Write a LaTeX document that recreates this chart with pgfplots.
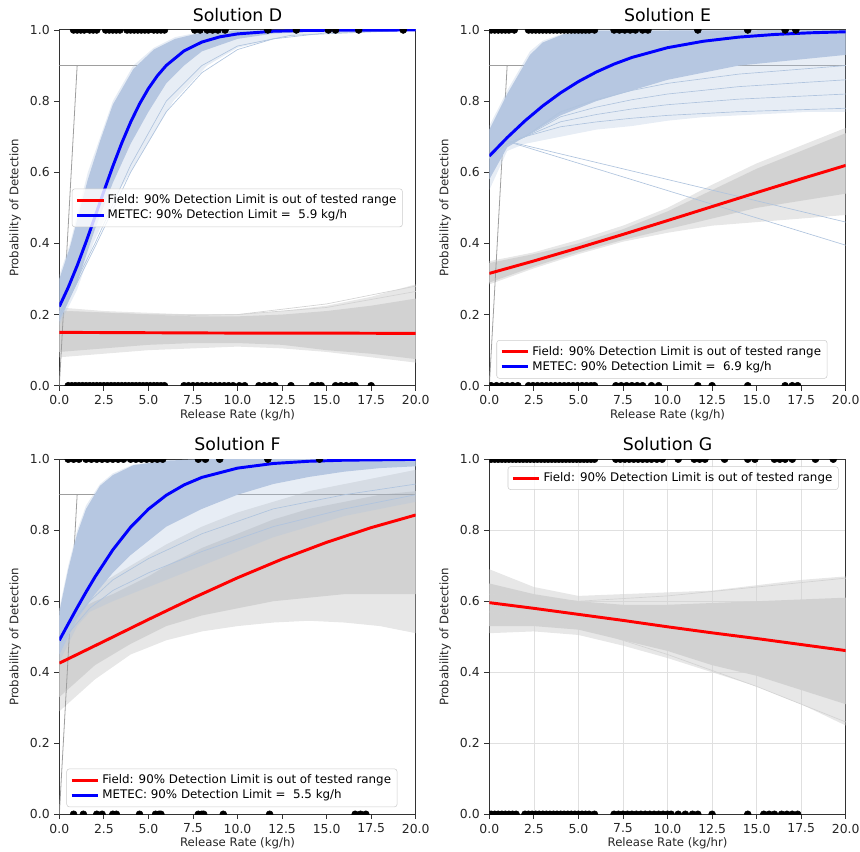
\documentclass[border=0pt]{standalone}
\usepackage{fontspec}
\setmainfont{DejaVu Sans}
\usepackage{pgfplots}
\pgfplotsset{compat=1.18}
\definecolor{fanblue}{RGB}{182,199,225}
\definecolor{fanblueL}{RGB}{176,196,222}
\definecolor{fangray}{RGB}{210,210,210}
\definecolor{fangrayL}{RGB}{211,211,211}
\definecolor{mred}{RGB}{255,0,0}
\definecolor{mblue}{RGB}{0,0,255}
\pgfplotsset{
  podaxis/.style={
    scale only axis, width=267.3pt,
    xmin=0, xmax=20, ymin=0, ymax=1,
    xtick={0,2.5,5,7.5,10,12.5,15,17.5,20},
    ytick={0,0.2,0.4,0.6,0.8,1},
    xticklabel style={/pgf/number format/.cd, fixed, fixed zerofill, precision=1},
    yticklabel style={/pgf/number format/.cd, fixed, fixed zerofill, precision=1},
    /pgf/number format/assume math mode=true,
    tick label style={font=\fontsize{9.3}{11}\selectfont, text=black!85},
    label style={font=\fontsize{8.8}{10}\selectfont, text=black!85},
    xlabel style={yshift=3.5pt},
    title style={font=\fontsize{13}{15}\selectfont, yshift=-3pt},
    tick align=outside, xtick pos=bottom, ytick pos=left,
    major tick length=3.7pt,
    tick style={black!80, line width=0.6pt},
    axis line style={black!80, line width=0.75pt},
    ylabel={Probability of Detection},
    clip marker paths=true,
    legend cell align=left,
    legend image code/.code={\draw[#1, line width=2.2pt] (0pt,0pt) -- (20pt,0pt);},
    legend style={draw=black!20, rounded corners=2pt, fill=white, fill opacity=0.8, text opacity=1,
      font=\fontsize{8.9}{10.5}\selectfont, inner sep=2.5pt, row sep=-1pt},
  },
  dots/.style={only marks, mark=*, mark size=2.6pt, black, forget plot},
  outerB/.style={draw=none, fill=fanblueL, fill opacity=0.3, forget plot},
  coreB/.style={draw=none, fill=fanblue, forget plot},
  outerG/.style={draw=none, fill=fangrayL, fill opacity=0.55, forget plot},
  coreG/.style={draw=none, fill=fangray, forget plot},
  thinB/.style={fanblueL, line width=0.5pt, forget plot},
  thinG/.style={fangrayL, line width=0.5pt, forget plot},
  refline/.style={black!38, line width=0.6pt, forget plot},
}
\begin{document}
\begin{tikzpicture}
\useasboundingbox (0pt,0pt) rectangle (645pt,-639pt);
% ---------------- Solution D
\begin{axis}[podaxis, height=266.8pt, at={(44.5pt,-289.3pt)}, anchor=south west,
  title={Solution D}, xlabel={Release Rate (kg/h)},
  legend style={at={(0.035,0.5)}, anchor=west}]
\addplot[outerG] coordinates {(0,0.22)(2.5,0.21)(5,0.205)(7.5,0.2)(10,0.2)(12.5,0.21)(15,0.225)(17.5,0.25)(20,0.285)(20,0.065)(17.5,0.08)(15,0.095)(12.5,0.105)(10,0.11)(7.5,0.105)(5,0.10)(2.5,0.09)(0,0.08)} -- cycle;
\addplot[coreG] coordinates {(0,0.21)(2.5,0.205)(5,0.20)(7.5,0.195)(10,0.195)(12.5,0.20)(15,0.21)(17.5,0.225)(20,0.245)(20,0.075)(17.5,0.09)(15,0.10)(12.5,0.115)(10,0.12)(7.5,0.12)(5,0.115)(2.5,0.105)(0,0.095)} -- cycle;
\addplot[thinG] coordinates {(0,0.21)(5,0.2)(10,0.2)(15,0.23)(20,0.28)};
\addplot[thinG] coordinates {(0,0.2)(5,0.195)(10,0.2)(15,0.22)(20,0.265)};
\addplot[refline] coordinates {(0,0.9)(5.9,0.9)};
\addplot[refline] coordinates {(0,0)(1,0.9)};
\addplot[outerB] coordinates {(0,0.31)(0.6,0.40)(1.6,0.60)(2.3,0.70)(3.0,0.80)(4.15,0.90)(5.3,0.95)(6.5,0.98)(8,0.995)(10,1)(20,1)(20,0.999)(15,0.993)(12.5,0.98)(10,0.95)(8.3,0.90)(6.4,0.80)(5.2,0.70)(4,0.60)(3,0.52)(1.9,0.40)(1,0.27)(0,0.17)} -- cycle;
\addplot[coreB] coordinates {(0,0.30)(0.6,0.39)(1.6,0.58)(2.3,0.69)(3.0,0.79)(4.15,0.89)(5.3,0.945)(6.5,0.975)(8,0.993)(10,0.999)(20,1.0)(20,1)(15,0.997)(12,0.99)(10,0.975)(8,0.94)(7,0.90)(6,0.85)(5,0.77)(4,0.68)(3,0.57)(2,0.44)(1,0.29)(0,0.18)} -- cycle;
\addplot[thinB] coordinates {(0,0.19)(2,0.39)(4,0.60)(6,0.77)(8,0.88)(10,0.945)(12,0.975)(15,0.992)(20,1)};
\addplot[thinB] coordinates {(0,0.2)(2,0.4)(4,0.62)(6,0.8)(8,0.9)(10,0.955)(13,0.985)(20,1)};
\addplot[mred, line width=2.2pt] coordinates {(0,0.150)(5,0.149)(10,0.148)(15,0.148)(20,0.147)};
\addlegendentry{Field: 90\% Detection Limit is out of tested range}
\addplot[mblue, line width=2.2pt] coordinates {(0,0.2227)(0.5,0.2764)(1,0.3374)(1.5,0.4043)(2,0.4750)(2.5,0.5467)(3,0.6166)(3.5,0.6819)(4,0.7408)(4.5,0.7921)(5,0.8355)(5.5,0.8713)(6,0.9003)(7,0.9413)(8,0.9661)(9,0.9807)(10,0.9890)(12,0.9965)(14,0.9989)(16,0.9996)(20,1.0)};
\addlegendentry{METEC: 90\% Detection Limit = \ 5.9 kg/h}
\addplot[dots] coordinates {(0.8,1)(1.0,1)(1.2,1)(1.4,1)(1.7,1)(1.9,1)(2.1,1)(2.6,1)(2.8,1)(3.0,1)(3.2,1)(3.4,1)(3.8,1)(4.0,1)(4.2,1)(4.4,1)(4.6,1)(4.8,1)(5.0,1)(5.3,1)(5.5,1)(5.7,1)(5.9,1)(7.6,1)(7.9,1)(8.3,1)(8.6,1)(8.9,1)(9.3,1)(11.7,1)(13.3,1)(15.1,1)(15.5,1)(16.8,1)(19.3,1)};
\addplot[dots] coordinates {(0.5,0)(0.7,0)(0.9,0)(1.1,0)(1.3,0)(1.5,0)(1.7,0)(1.9,0)(2.1,0)(2.3,0)(2.5,0)(2.7,0)(2.9,0)(3.1,0)(3.3,0)(3.5,0)(3.7,0)(3.9,0)(4.1,0)(4.3,0)(4.5,0)(4.7,0)(4.9,0)(5.1,0)(5.3,0)(5.5,0)(5.7,0)(5.9,0)(7.0,0)(7.25,0)(7.5,0)(7.75,0)(8.0,0)(8.25,0)(8.5,0)(8.75,0)(9.0,0)(9.25,0)(9.5,0)(9.75,0)(10.1,0)(10.4,0)(11.2,0)(11.5,0)(11.8,0)(12.1,0)(13.0,0)(14.2,0)(14.5,0)(14.7,0)(15.5,0)(15.8,0)(16.1,0)(16.4,0)(16.6,0)(17.5,0)};
\end{axis}
% ---------------- Solution E
\begin{axis}[podaxis, height=266.8pt, at={(367.0pt,-289.3pt)}, anchor=south west,
  title={Solution E}, xlabel={Release Rate (kg/h)},
  legend style={at={(0.02,0.02)}, anchor=south west}]
\addplot[outerG] coordinates {(0,0.35)(2.5,0.375)(5,0.41)(7.5,0.45)(10,0.50)(12.5,0.565)(15,0.625)(17.5,0.675)(20,0.725)(20,0.48)(17.5,0.47)(15,0.46)(12.5,0.45)(10,0.43)(7.5,0.405)(5,0.37)(2.5,0.33)(0,0.285)} -- cycle;
\addplot[coreG] coordinates {(0,0.345)(2.5,0.37)(5,0.40)(7.5,0.44)(10,0.49)(12.5,0.55)(15,0.61)(17.5,0.66)(20,0.71)(20,0.54)(17.5,0.52)(15,0.50)(12.5,0.47)(10,0.44)(7.5,0.41)(5,0.375)(2.5,0.335)(0,0.29)} -- cycle;
\addplot[refline] coordinates {(0,0.9)(20,0.9)};
\addplot[refline] coordinates {(0,0)(1,0.9)};
\addplot[outerB] coordinates {(0,0.73)(1,0.83)(2.28,0.94)(3,0.97)(4.15,0.99)(6,1)(20,1)(20,0.77)(18,0.77)(16,0.765)(14,0.76)(12,0.755)(10,0.745)(8,0.73)(6,0.72)(4,0.70)(2,0.68)(1,0.66)(0,0.55)} -- cycle;
\addplot[coreB] coordinates {(0,0.72)(1,0.82)(2.28,0.93)(3,0.965)(4.15,0.988)(6,0.998)(20,1)(20,0.93)(18,0.92)(16,0.91)(14,0.90)(12,0.88)(10,0.86)(8,0.83)(6,0.80)(5,0.78)(4,0.76)(3,0.73)(2,0.70)(1,0.67)(0,0.58)} -- cycle;
\addplot[thinB] coordinates {(0,0.64)(1,0.68)(2,0.70)(4,0.728)(6,0.7416)(8,0.752)(10,0.76)(14,0.7704)(20,0.78)};
\addplot[thinB] coordinates {(0,0.64)(1,0.68)(2,0.70)(4,0.742)(6,0.7624)(8,0.778)(10,0.79)(14,0.8056)(20,0.82)};
\addplot[thinB] coordinates {(0,0.64)(1,0.68)(2,0.70)(4,0.756)(6,0.7832)(8,0.804)(10,0.82)(14,0.8408)(20,0.86)};
\addplot[thinB] coordinates {(0,0.64)(1,0.68)(2,0.70)(4,0.77)(6,0.804)(8,0.83)(10,0.85)(14,0.876)(20,0.90)};
\addplot[thinB] coordinates {(0.8,0.69)(20,0.395)};
\addplot[thinB] coordinates {(0.8,0.69)(20,0.46)};
\addplot[mred, line width=2.2pt] coordinates {(0,0.3158)(2.5,0.3508)(5,0.3875)(7.5,0.4254)(10,0.4643)(12.5,0.5036)(15,0.5429)(17.5,0.5816)(20,0.6194)};
\addlegendentry{Field: 90\% Detection Limit is out of tested range}
\addplot[mblue, line width=2.2pt] coordinates {(0,0.6457)(1,0.6974)(2,0.7446)(3,0.7867)(4,0.8234)(5,0.8550)(6,0.8818)(7,0.9042)(8,0.9228)(10,0.9503)(12,0.9683)(14,0.9800)(16,0.9874)(18,0.9921)(20,0.9950)};
\addlegendentry{METEC: 90\% Detection Limit = \ 6.9 kg/h}
\addplot[dots] coordinates {(0.1,1)(0.3,1)(0.5,1)(0.7,1)(0.9,1)(1.1,1)(1.4,1)(2.2,1)(2.4,1)(2.6,1)(2.8,1)(3.0,1)(3.2,1)(3.4,1)(3.6,1)(3.8,1)(4.0,1)(4.2,1)(4.4,1)(4.6,1)(4.8,1)(5.0,1)(5.2,1)(5.4,1)(5.6,1)(5.9,1)(7.0,1)(7.3,1)(7.6,1)(7.9,1)(8.2,1)(8.6,1)(8.9,1)(11.7,1)(14.5,1)(16.6,1)(17.2,1)};
\addplot[dots] coordinates {(0.1,0)(0.4,0)(0.7,0)(1.0,0)(1.3,0)(1.6,0)(2.2,0)(2.45,0)(2.7,0)(2.95,0)(3.2,0)(3.45,0)(3.7,0)(3.95,0)(4.2,0)(4.45,0)(4.7,0)(4.95,0)(5.2,0)(5.45,0)(5.7,0)(5.9,0)(7.1,0)(7.4,0)(7.7,0)(8.0,0)(8.3,0)(8.6,0)(9.1,0)(9.5,0)(11.7,0)(12.5,0)(14.5,0)(16.6,0)(17.0,0)(17.3,0)};
\end{axis}
% ---------------- Solution F
\begin{axis}[podaxis, height=266.3pt, at={(44.5pt,-610.7pt)}, anchor=south west,
  title={Solution F}, xlabel={Release Rate (kg/h)},
  legend style={at={(0.02,0.02)}, anchor=south west}]
\addplot[outerG] coordinates {(0,0.58)(2,0.64)(4,0.70)(6,0.76)(8,0.81)(10,0.85)(12,0.88)(14,0.91)(16,0.93)(18,0.95)(20,0.97)(20,0.51)(18,0.53)(16,0.54)(14,0.545)(12,0.54)(10,0.53)(8,0.515)(6,0.49)(4,0.45)(2,0.38)(0,0.29)} -- cycle;
\addplot[coreG] coordinates {(0,0.56)(1,0.575)(2,0.60)(3,0.62)(4,0.645)(5,0.67)(6,0.70)(8,0.75)(10,0.79)(12,0.83)(14,0.86)(16,0.88)(18,0.90)(20,0.91)(20,0.62)(18,0.62)(16,0.62)(14,0.61)(12,0.60)(10,0.58)(8,0.56)(6,0.53)(4,0.48)(2,0.42)(0,0.33)} -- cycle;
\addplot[refline] coordinates {(0,0.9)(20,0.9)};
\addplot[refline] coordinates {(0,0)(1,0.9)};
\addplot[outerB] coordinates {(0,0.58)(0.5,0.70)(1,0.80)(1.5,0.87)(2.28,0.93)(3,0.96)(4.15,0.985)(6,0.997)(8,1)(20,1)(20,0.88)(18,0.86)(16,0.84)(14,0.81)(12,0.78)(10,0.74)(8,0.70)(5,0.64)(3,0.60)(1.7,0.57)(1,0.53)(0,0.43)} -- cycle;
\addplot[coreB] coordinates {(0,0.57)(0.5,0.69)(1,0.79)(1.5,0.86)(2.28,0.925)(3,0.955)(4.15,0.983)(6,0.996)(8,1)(20,1)(20,0.98)(18,0.975)(16,0.965)(14,0.95)(12,0.93)(10,0.90)(8,0.86)(6,0.81)(5,0.77)(4,0.73)(3,0.68)(2,0.62)(1,0.55)(0,0.45)} -- cycle;
\addplot[thinB] coordinates {(0,0.5)(1.7,0.6)(3,0.66)(5,0.72)(8,0.79)(12,0.86)(16,0.9)(20,0.93)};
\addplot[thinB] coordinates {(0,0.48)(1.7,0.58)(3,0.63)(5,0.68)(8,0.74)(12,0.81)(16,0.86)(20,0.9)};
\addplot[mred, line width=2.2pt] coordinates {(0,0.4256)(2.5,0.4869)(5,0.5486)(7.5,0.6089)(10,0.6660)(12.5,0.7186)(15,0.7659)(17.5,0.8073)(20,0.8429)};
\addlegendentry{Field: 90\% Detection Limit is out of tested range}
\addplot[mblue, line width=2.2pt] coordinates {(0,0.490)(0.5,0.5362)(1,0.5818)(1.5,0.6260)(2,0.6682)(3,0.7446)(4,0.8085)(5,0.8594)(6,0.8985)(7,0.9276)(8,0.9488)(10,0.9749)(12,0.9879)(14,0.9942)(16,0.9972)(20,0.9994)};
\addlegendentry{METEC: 90\% Detection Limit = \ 5.5 kg/h}
\addplot[dots] coordinates {(0.5,1)(0.8,1)(1.1,1)(1.5,1)(1.8,1)(2.1,1)(2.4,1)(2.7,1)(3.0,1)(3.3,1)(3.6,1)(4.0,1)(4.3,1)(4.6,1)(4.9,1)(5.2,1)(5.5,1)(5.8,1)(7.8,1)(8.2,1)(9.0,1)(11.7,1)(14.6,1)};
\addplot[dots] coordinates {(0.8,0)(1.35,0)(2.1,0)(2.4,0)(3.0,0)(3.2,0)(4.5,0)(5.4,0)(5.6,0)(5.7,0)(7.8,0)(8.0,0)(8.1,0)(9.2,0)(11.8,0)(16.6,0)(16.9,0)(17.2,0)};
\end{axis}
% ---------------- Solution G
\begin{axis}[podaxis, height=266.3pt, at={(367.0pt,-610.7pt)}, anchor=south west,
  title={Solution G}, xlabel={Release Rate (kg/hr)},
  grid=major, major grid style={black!12, line width=0.5pt},
  legend style={at={(0.98,0.98)}, anchor=north east}]
\addplot[outerG] coordinates {(0,0.69)(2.5,0.64)(5,0.615)(7.5,0.62)(10,0.625)(12.5,0.63)(15,0.645)(17.5,0.66)(20,0.67)(20,0.25)(17.5,0.31)(15,0.36)(12.5,0.40)(10,0.44)(7.5,0.475)(5,0.505)(2.5,0.515)(0,0.51)} -- cycle;
\addplot[coreG] coordinates {(0,0.65)(2.5,0.62)(5,0.60)(7.5,0.59)(10,0.59)(12.5,0.595)(15,0.60)(17.5,0.605)(20,0.61)(20,0.31)(17.5,0.35)(15,0.39)(12.5,0.42)(10,0.46)(7.5,0.49)(5,0.52)(2.5,0.53)(0,0.53)} -- cycle;
\addplot[thinG] coordinates {(0,0.62)(5,0.6)(10,0.615)(15,0.64)(20,0.665)};
\addplot[thinG] coordinates {(0,0.57)(5,0.53)(10,0.45)(15,0.36)(20,0.26)};
\addplot[mred, line width=2.2pt] coordinates {(0,0.596)(2.5,0.580)(5,0.563)(7.5,0.546)(10,0.528)(12.5,0.511)(15,0.495)(17.5,0.478)(20,0.461)};
\addlegendentry{Field: 90\% Detection Limit is out of tested range}
\addplot[dots] coordinates {(0.1,1)(0.3,1)(0.5,1)(0.7,1)(0.9,1)(1.1,1)(1.3,1)(1.5,1)(1.7,1)(1.9,1)(2.1,1)(2.3,1)(2.5,1)(2.7,1)(2.9,1)(3.1,1)(3.3,1)(3.5,1)(3.7,1)(3.9,1)(4.1,1)(4.3,1)(4.5,1)(4.7,1)(4.9,1)(5.1,1)(5.3,1)(5.5,1)(5.7,1)(5.9,1)(7.1,1)(7.35,1)(7.6,1)(7.85,1)(8.1,1)(8.35,1)(8.6,1)(8.85,1)(9.1,1)(9.4,1)(9.7,1)(10.6,1)(11.5,1)(11.8,1)(12.1,1)(13.2,1)(14.5,1)(14.9,1)(16.0,1)(16.3,1)(16.6,1)(17.0,1)(18.3,1)(19.3,1)};
\addplot[dots] coordinates {(0.1,0)(0.3,0)(0.5,0)(0.7,0)(0.9,0)(1.1,0)(1.3,0)(1.5,0)(2.0,0)(2.2,0)(2.4,0)(2.6,0)(2.8,0)(3.0,0)(3.2,0)(3.4,0)(3.6,0)(3.8,0)(4.0,0)(4.2,0)(4.4,0)(4.6,0)(4.8,0)(5.0,0)(5.2,0)(5.4,0)(5.6,0)(5.9,0)(7.0,0)(7.25,0)(7.5,0)(7.75,0)(8.0,0)(8.25,0)(8.5,0)(8.75,0)(9.0,0)(9.25,0)(9.5,0)(9.75,0)(10.0,0)(10.2,0)(10.6,0)(11.0,0)(11.4,0)(11.7,0)(12.5,0)(14.5,0)(15.4,0)(15.7,0)(16.0,0)(16.4,0)(16.7,0)(17.0,0)(17.3,0)};
\end{axis}
\end{tikzpicture}
\end{document}
